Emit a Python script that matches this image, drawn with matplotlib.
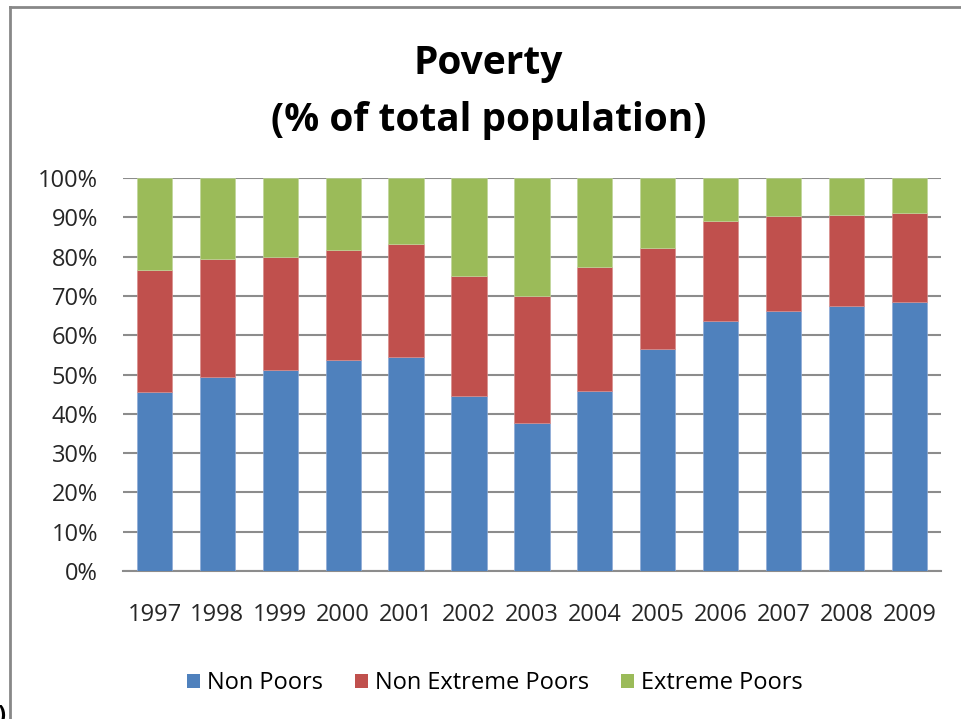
import numpy as np
import matplotlib.pyplot as plt
from matplotlib.lines import Line2D
from matplotlib.patches import Patch
from matplotlib.ticker import PercentFormatter, MultipleLocator

years = ['1997', '1998', '1999', '2000', '2001', '2002', '2003',
         '2004', '2005', '2006', '2007', '2008', '2009']
non_poors = [45.6, 49.4, 51.1, 53.8, 54.4, 44.6, 37.7, 45.9, 56.4, 63.5, 66.2, 67.5, 68.4]
non_extreme = [31.0, 30.1, 28.7, 28.0, 28.7, 30.4, 32.4, 31.4, 25.8, 25.5, 24.1, 23.2, 22.6]
extreme = [100 - a - b for a, b in zip(non_poors, non_extreme)]

c_blue = '#4F81BD'
c_red = '#C0504D'
c_green = '#9BBB59'

plt.rcParams['font.family'] = ['Open Sans', 'DejaVu Sans']

fig = plt.figure(figsize=(9.61, 7.19), dpi=100)
ax = fig.add_axes([0.128, 0.2058, 0.851, 0.5466])

x = np.arange(len(years))
w = 0.56
ax.bar(x, non_poors, w, color=c_blue, edgecolor='#8EAAD6', linewidth=0.5, zorder=3)
ax.bar(x, non_extreme, w, bottom=non_poors, color=c_red, edgecolor='#D88E8C', linewidth=0.5, zorder=3)
bott = [a + b for a, b in zip(non_poors, non_extreme)]
ax.bar(x, extreme, w, bottom=bott, color=c_green, edgecolor='#C0D69A', linewidth=0.5, zorder=3)

ax.set_xlim(-0.5, len(years) - 0.5)
ax.set_ylim(0, 100)
ax.yaxis.set_major_locator(MultipleLocator(10))
ax.yaxis.set_major_formatter(PercentFormatter(decimals=0))
ax.set_xticks(x)
ax.set_xticklabels(years)
ax.tick_params(axis='both', length=0, labelsize=17, colors='#262626')
ax.tick_params(axis='y', pad=18)
ax.tick_params(axis='x', pad=23)
ax.grid(axis='y', color='#8C8C8C', linewidth=1.5, zorder=0)
for s in ['left', 'right', 'top']:
    ax.spines[s].set_visible(False)
ax.spines['bottom'].set_color('#8C8C8C')
ax.spines['bottom'].set_linewidth(1.5)

fig.text(0.508, 0.912, 'Poverty', ha='center', va='center', fontsize=28, fontweight='bold')
fig.text(0.508, 0.832, '(% of total population)', ha='center', va='center', fontsize=28, fontweight='bold')

handles = [Patch(facecolor=c_blue), Patch(facecolor=c_red), Patch(facecolor=c_green)]
labels = ['Non Poors', 'Non Extreme Poors', 'Extreme Poors']
fig.legend(handles, labels, loc='center', bbox_to_anchor=(0.515, 0.05), ncol=3,
           frameon=False, fontsize=17, handlelength=0.55, handleheight=0.55,
           handletextpad=0.3, columnspacing=1.35)

# chart frame (only top and left edges are visible)
fig.add_artist(Line2D([0.0102, 1.0], [0.990, 0.990], transform=fig.transFigure, color='#888888', linewidth=2))
fig.add_artist(Line2D([0.0102, 0.0102], [0.0, 0.990], transform=fig.transFigure, color='#888888', linewidth=2))
fig.text(0.001, -0.012, ')', ha='center', va='bottom', fontsize=17, fontweight='bold')

fig.savefig('out.png', dpi=100)
